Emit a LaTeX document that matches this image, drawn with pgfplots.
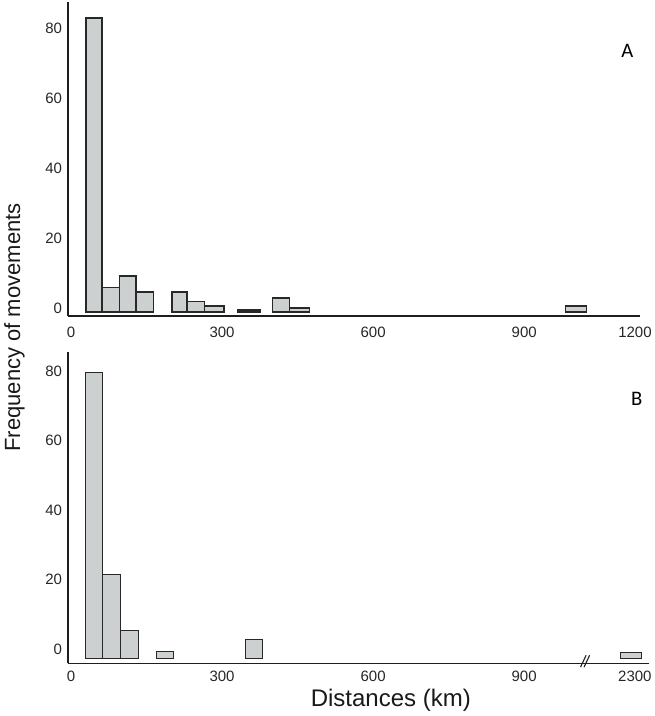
\documentclass[border=0pt]{standalone}
\usepackage{pgfplots}
\pgfplotsset{compat=1.18}
\usepackage{fontspec}
\setmainfont{Liberation Sans}
\newfontfamily\calibri{Carlito}
\definecolor{barfill}{RGB}{205,208,209}
\definecolor{bardraw}{RGB}{40,40,40}
\definecolor{axcol}{RGB}{30,30,30}
\begin{document}
\begin{tikzpicture}
\path[use as bounding box] (0,0) rectangle (490.5pt,-537pt);
\pgfplotsset{
  myaxis/.style={
    scale only axis,
    axis lines=left,
    axis line style={-, line width=1.2pt, draw=axcol},
    major tick length=0pt,
    tick label style={font=\fontsize{11.25}{13}\selectfont, text=black!85},
    /pgf/number format/assume math mode=true,
    xtick={0,300,600,900,1120},
    ytick={0,20,40,60,80},
    clip=false,
    anchor=south west,
  },
}
% Panel A
\begin{axis}[myaxis, at={(51pt,-237pt)}, width=429pt, height=235.5pt,
  xmin=-6, xmax=1130, ymin=-1.14, ymax=88.6,
  xticklabels={0,300,600,900,1200},
  xticklabel style={yshift=-4.6pt},
  yticklabel style={yshift=3pt, xshift=-1pt}]
\addplot[ybar interval, fill=barfill, draw=bardraw, line width=1.2pt] coordinates {(30,84)(61,7)(96,10.3)(129,5.8)(164,0)};
\addplot[ybar interval, fill=barfill, draw=bardraw, line width=1.2pt] coordinates {(201,5.8)(230,3)(265,1.8)(304,0)};
\addplot[ybar interval, fill=bardraw, draw=bardraw, line width=1.2pt] coordinates {(331,0.7)(375,0)};
\addplot[ybar interval, fill=barfill, draw=bardraw, line width=1.2pt] coordinates {(400,4)(434,1.1)(474,0)};
\addplot[ybar interval, fill=barfill, draw=bardraw, line width=1.2pt] coordinates {(982,1.7)(1024,0)};
\end{axis}
% Panel B
\begin{axis}[myaxis, at={(51pt,-497.5pt)}, width=435.75pt, height=233.7pt,
  xmin=-6, xmax=1148, ymin=-1.32, ymax=88.35,
  xticklabels={0,300,600,900,2300},
  xticklabel style={yshift=-2.25pt},
  yticklabel style={yshift=7.3pt, xshift=-1pt}]
\addplot[ybar interval, fill=barfill, draw=bardraw, line width=0.8pt] coordinates {(29,82.3)(63,24.3)(99,8)(134,0)};
\addplot[ybar interval, fill=barfill, draw=bardraw, line width=0.8pt] coordinates {(169,2.2)(204,0)};
\addplot[ybar interval, fill=barfill, draw=bardraw, line width=0.8pt] coordinates {(346,5.6)(381,0)};
\addplot[ybar interval, fill=barfill, draw=bardraw, line width=0.8pt] coordinates {(1092,1.7)(1134,0)};
\draw[line width=0.8pt, axcol] (axis cs:1012,-2.4) -- (axis cs:1023,1.0);
\draw[line width=0.8pt, axcol] (axis cs:1019,-2.4) -- (axis cs:1030,1.0);
\end{axis}
% Panel letters
\node[font=\calibri\fontsize{15.5}{18}\selectfont] at (470.6pt,-38.25pt) {A};
\node[font=\calibri\fontsize{15.5}{18}\selectfont] at (477.5pt,-299.25pt) {B};
% Axis titles
\node[rotate=90, anchor=base, font=\fontsize{16.5}{19}\selectfont, text=black!90] at (15pt,-245.6pt) {Frequency of movements};
\node[anchor=base, font=\fontsize{18}{21}\selectfont, text=black!90] at (293.1pt,-530pt) {Distances (km)};
\end{tikzpicture}
\end{document}
